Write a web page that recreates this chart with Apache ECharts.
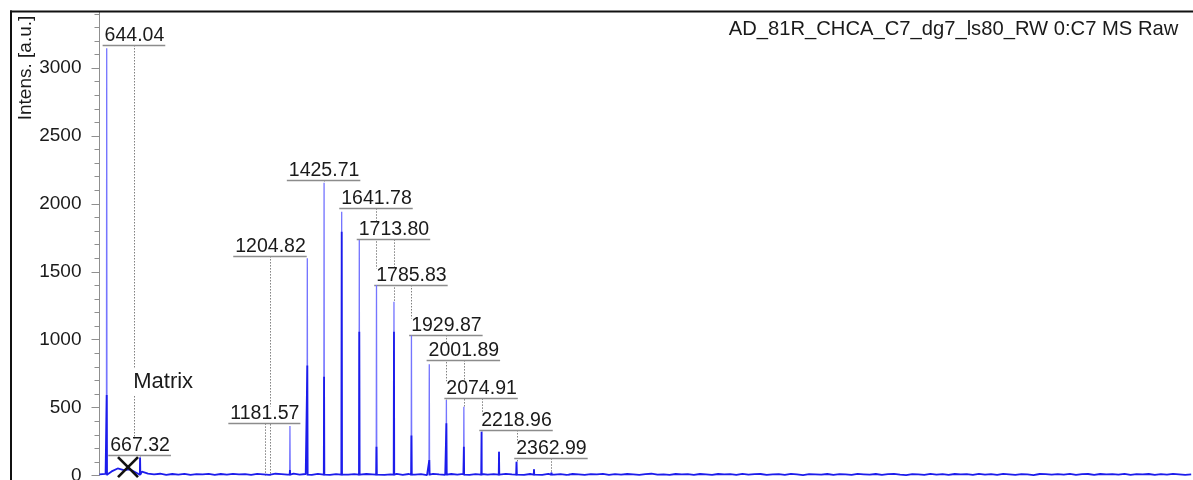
<!DOCTYPE html>
<html>
<head>
<meta charset="utf-8">
<title>MS Raw spectrum</title>
<script src="https://cdn.jsdelivr.net/npm/echarts@6/dist/echarts.min.js"></script>
<style>
  html, body { margin: 0; padding: 0; background: #fff; }
  #chart { width: 1193px; height: 480px; }
</style>
</head>
<body>
<div id="chart"></div>
<script>
// ---- spectrum data (m/z, intensity in a.u.) ----
const spectrumTitle = 'AD_81R_CHCA_C7_dg7_ls80_RW 0:C7 MS Raw';
const axisName = 'Intens. [a.u.]';

// peak centroids and their apex intensity
const peakMz        = [529.7, 667.32, 1285.0, 1356.6, 1425.71, 1498.3, 1570.9, 1641.78, 1713.80, 1785.83, 1859.4, 1929.87, 2001.89, 2074.91, 2146.8, 2218.96, 2291.0, 2362.99, 2436.0];
const peakIntensity = [3146,  133,    364,    1600,   2156,    1943,   1734,   1403,    1280,    1030,    819,    556,     507,     323,     175,    102,     46,     22,      14];
// intensity of the dense core of each peak
const peakCore      = [593,   133,    40,     810,    727,     1795,   1059,   212,     1059,    295,     114,    384,     212,     323,     175,    102,     46,     22,      14];

// baseline noise, sampled every 25 Da from m/z 500
const noiseStartMz = 500;
const noiseStepMz = 25;
const baselineNoise = [
  8, 12, 30, 52, 40, 46, 22, 28, 14, 8, 13, 5, 11, 7, 12, 4, 10, 8, 12, 5,
  11, 6, 12, 8, 10, 4, 12, 9, 5, 13, 10, 6, 14, 7, 11, 5, 12, 9, 4, 10,
  12, 6, 10, 4, 11, 8, 13, 5, 9, 12, 4, 11, 7, 10, 3, 12, 8, 5, 11, 7,
  12, 5, 10, 11, 6, 10, 4, 12, 8, 10, 4, 11, 9, 5, 12, 7, 10, 4, 11, 8,
  5, 10, 8, 12, 4, 10, 7, 11, 9, 4, 10, 13, 6, 9, 4, 11, 8, 10, 5, 11,
  8, 4, 11, 9, 10, 5, 12, 7, 10, 11, 4, 9, 10, 5, 12, 8, 3, 10, 9, 6,
  11, 5, 10, 8, 4, 12, 9, 6, 11, 4, 10, 12, 7, 3, 10, 9, 5, 12, 7, 10,
  4, 11, 9, 10, 4, 12, 7, 10, 5, 12, 9, 5, 10, 8, 3, 11, 10, 6, 10, 7,
  12, 5, 10, 11, 4, 11, 8, 10, 6, 12, 4, 10, 9, 11, 5, 10, 7, 12, 9, 4,
  8
];

// peak annotations: text (= m/z), height of the label underline, end of the dotted leader
const labelText  = ['644.04', '667.32', '1181.57', '1204.82', '1425.71', '1641.78', '1713.80', '1785.83', '1929.87', '2001.89', '2074.91', '2218.96', '2362.99'];
const labelLevel = [3170,     151,      384,       1616,      2176,      1968,      1739,      1403,      1035,      850,       568,       335,       127];
const leaderEnd  = [151,      133,      0,         0,         2156,      1403,      1280,      1030,      556,       507,       323,       102,       22];
const labelMz = labelText.map(Number);

// matrix annotation
const matrixText = 'Matrix';
const matrixTextPos = [639, 688];
const matrixMarkPos = [617.5, 62];

// axis ranges
const mzMin = 500, mzMax = 5000;
const intensityMin = 0, intensityMax = 3500, intensityStep = 500;

// ---- build series data ----
const FONT = '"Liberation Sans", Arial, sans-serif';
const LABEL_SIZE = 19.5;

const lightData = [];
peakMz.forEach((m, i) => {
  lightData.push([m - 1.2, 0], [m, peakIntensity[i]], [m + 1.2, 0], [m + 1.3, null]);
});

const darkData = baselineNoise.map((v, i) => [noiseStartMz + i * noiseStepMz, v]);
peakMz.forEach((m, i) => {
  darkData.push([m - 1.2, 6], [m, peakCore[i]], [m + 1.2, 6]);
});
darkData.sort((a, b) => a[0] - b[0]);

const measureCtx = document.createElement('canvas').getContext('2d');
function textWidth(t, size) {
  measureCtx.font = size + 'px ' + FONT;
  return measureCtx.measureText(t).width;
}

const chart = echarts.init(document.getElementById('chart'), null, { renderer: 'canvas' });

chart.setOption({
  animation: false,
  backgroundColor: '#fff',
  title: {
    text: spectrumTitle,
    right: 9.7,
    top: 14,
    textStyle: { fontSize: 20.2, fontWeight: 'normal', fontFamily: FONT, color: '#1a1a1a' }
  },
  grid: { left: 99.5, right: 1.8, top: 0.2, bottom: 4.5, containLabel: false, outerBoundsMode: 'none' },
  xAxis: {
    type: 'value', min: mzMin, max: mzMax,
    axisLine: { show: false }, axisTick: { show: false }, axisLabel: { show: false }, splitLine: { show: false }
  },
  yAxis: {
    type: 'value', min: intensityMin, max: intensityMax, interval: intensityStep,
    axisLine: { show: true, lineStyle: { color: '#8f8f8f', width: 1 } },
    axisTick: { show: true, length: 8, lineStyle: { color: '#8f8f8f' } },
    minorTick: { show: true, splitNumber: 5, length: 5, lineStyle: { color: '#8f8f8f' } },
    splitLine: { show: false },
    axisLabel: {
      margin: 18, fontSize: 19, fontFamily: FONT, color: '#1a1a1a',
      formatter: v => (v > 3000) ? '' : String(v)
    }
  },
  series: [
    {
      // dotted leaders from each label down to its peak
      type: 'custom', name: 'leaders', z: 1, silent: true,
      encode: { x: 0, y: 1 },
      data: labelMz.map((m, i) => [m, labelLevel[i], leaderEnd[i]]),
      renderItem(params, api) {
        const p0 = api.coord([api.value(0), api.value(1)]);
        const p1 = api.coord([api.value(0), api.value(2)]);
        const x = Math.round(p0[0]) + 0.5;
        return {
          type: 'line',
          shape: { x1: x, y1: p0[1], x2: x, y2: p1[1] },
          style: { stroke: '#808080', lineWidth: 1, lineDash: [1.5, 1.5] }
        };
      }
    },
    {
      // peak labels with underline
      type: 'custom', name: 'labels', z: 2, silent: true,
      encode: { x: 0, y: 1 },
      data: labelMz.map((m, i) => [m, labelLevel[i]]),
      renderItem(params, api) {
        const i = params.dataIndex;
        const p = api.coord([api.value(0), api.value(1)]);
        const t = labelText[i];
        const w = textWidth(t, LABEL_SIZE);
        const x0 = p[0] - w / 2 - 2, x1 = p[0] + w / 2 + 1;
        const y = Math.round(p[1]) + 0.5;
        return {
          type: 'group',
          children: [
            { type: 'rect', shape: { x: x0, y: y - 17, width: x1 - x0, height: 16.5 }, style: { fill: '#fff' } },
            { type: 'text', style: { text: t, x: p[0], y: y - 0.3, align: 'center', verticalAlign: 'bottom', fontSize: LABEL_SIZE, fontFamily: FONT, fill: '#1a1a1a' } },
            { type: 'line', shape: { x1: x0, y1: y, x2: x1, y2: y }, style: { stroke: '#8c8c8c', lineWidth: 1.5 } }
          ]
        };
      }
    },
    {
      type: 'custom', name: 'matrix label', z: 2, silent: true,
      encode: { x: 0, y: 1 },
      data: [matrixTextPos],
      renderItem(params, api) {
        const p = api.coord([api.value(0), api.value(1)]);
        const w = textWidth(matrixText, 22);
        return {
          type: 'group',
          children: [
            { type: 'rect', shape: { x: p[0] - 3, y: p[1] - 13, width: w + 4, height: 26 }, style: { fill: '#fff' } },
            { type: 'text', style: { text: matrixText, x: p[0], y: p[1], align: 'left', verticalAlign: 'middle', fontSize: 22, fontFamily: FONT, fill: '#1a1a1a' } }
          ]
        };
      }
    },
    {
      type: 'line', name: 'spectrum', z: 3, silent: true,
      data: lightData, showSymbol: false, symbol: 'none', connectNulls: false,
      lineStyle: { color: '#7575ff', width: 1.3 }
    },
    {
      type: 'line', name: 'spectrum core', z: 4, silent: true,
      data: darkData, showSymbol: false, symbol: 'none',
      lineStyle: { color: '#1c1ceb', width: 1.8 }
    },
    {
      type: 'custom', name: 'matrix mark', z: 5, silent: true,
      encode: { x: 0, y: 1 },
      data: [matrixMarkPos],
      renderItem(params, api) {
        const p = api.coord([api.value(0), api.value(1)]);
        const r = 10;
        const st = { stroke: '#111', lineWidth: 2.6 };
        return {
          type: 'group',
          children: [
            { type: 'line', shape: { x1: p[0] - r, y1: p[1] - r, x2: p[0] + r, y2: p[1] + r }, style: st },
            { type: 'line', shape: { x1: p[0] - r, y1: p[1] + r, x2: p[0] + r, y2: p[1] - r }, style: st }
          ]
        };
      }
    }
  ],
  graphic: [
    { type: 'rect', z: 100, shape: { x: 0, y: 0, width: 1193, height: 11 }, style: { fill: '#fff' } },
    { type: 'rect', z: 100, shape: { x: 0, y: 0, width: 10, height: 480 }, style: { fill: '#fff' } },
    { type: 'line', z: 101, shape: { x1: 10, y1: 11.5, x2: 1193, y2: 11.5 }, style: { stroke: '#111', lineWidth: 2 } },
    { type: 'line', z: 101, shape: { x1: 11, y1: 10.5, x2: 11, y2: 480 }, style: { stroke: '#111', lineWidth: 2 } },
    {
      type: 'text', z: 101, x: 25.5, y: 68, rotation: Math.PI / 2,
      style: { text: axisName, align: 'center', verticalAlign: 'middle', fontSize: 19, fontFamily: FONT, fill: '#1a1a1a' }
    }
  ]
});
</script>
</body>
</html>
